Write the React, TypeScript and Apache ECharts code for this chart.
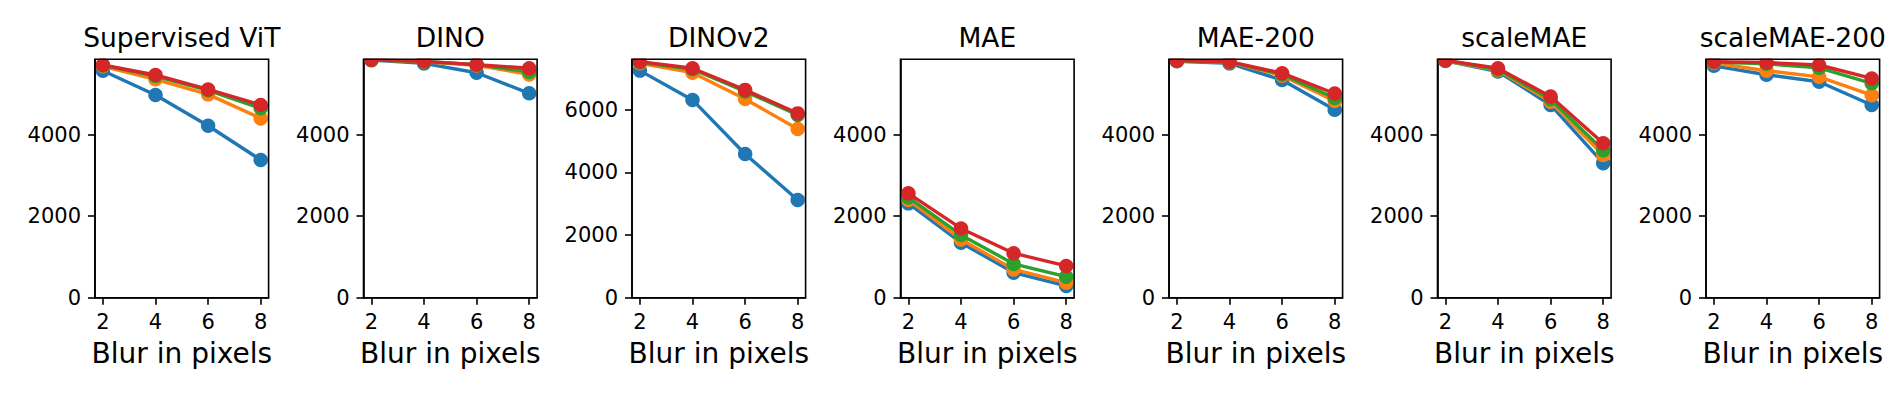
import React, { useEffect, useRef } from "react";
import * as echarts from "echarts";

const blurPixels = [2, 4, 6, 8];
const panelTitles = ["Supervised ViT", "DINO", "DINOv2", "MAE", "MAE-200", "scaleMAE", "scaleMAE-200"];
const seriesNames = ["series 1", "series 2", "series 3", "series 4"];
const seriesColors = ["#1f77b4", "#ff7f0e", "#2ca02c", "#d62728"];
const xTicks = [2, 4, 6, 8];
const yTicksShared = [0, 2000, 4000];
const yTicksDinov2 = [0, 2000, 4000, 6000];

const supervisedViT = [
  [5570, 4975, 4220, 3380],
  [5680, 5360, 4990, 4400],
  [5700, 5440, 5090, 4650],
  [5710, 5465, 5110, 4730],
];
const dino = [
  [5830, 5750, 5520, 5015],
  [5835, 5790, 5700, 5480],
  [5835, 5795, 5720, 5540],
  [5840, 5800, 5720, 5630],
];
const dinov2 = [
  [7245, 6310, 4585, 3120],
  [7480, 7180, 6340, 5385],
  [7510, 7290, 6580, 5830],
  [7530, 7320, 6630, 5880],
];
const mae = [
  [2315, 1350, 615, 290],
  [2400, 1430, 695, 370],
  [2460, 1540, 830, 515],
  [2560, 1700, 1090, 780],
];
const mae200 = [
  [5800, 5750, 5340, 4610],
  [5810, 5780, 5450, 4830],
  [5815, 5785, 5480, 4900],
  [5820, 5790, 5510, 5010],
];
const scaleMAE = [
  [5810, 5550, 4730, 3300],
  [5815, 5580, 4810, 3500],
  [5820, 5600, 4870, 3620],
  [5825, 5630, 4935, 3790],
];
const scaleMAE200 = [
  [5690, 5470, 5300, 4730],
  [5760, 5570, 5420, 4970],
  [5780, 5740, 5640, 5260],
  [5790, 5770, 5710, 5380],
];

const panelData = [supervisedViT, dino, dinov2, mae, mae200, scaleMAE, scaleMAE200];
const yMaxes = [5850, 5850, 7606, 5850, 5850, 5850, 5850];
const yTickSets = [yTicksShared, yTicksShared, yTicksDinov2, yTicksShared, yTicksShared, yTicksShared, yTicksShared];

const FONT = "DejaVu Sans";
const GRID_LEFT0 = 95;
const GRID_STEP = 268.5;
const GRID_W = 173.6;
const GRID_TOP = 59.3;
const GRID_H = 238.4;

export default function App() {
  const ref = useRef<HTMLDivElement>(null);
  useEffect(() => {
    if (!ref.current) return;
    const chart = echarts.init(ref.current, null, { renderer: "svg" });
    const grids: any[] = [];
    const xAxes: any[] = [];
    const yAxes: any[] = [];
    const series: any[] = [];
    const graphics: any[] = [];
    panelTitles.forEach((title, i) => {
      const left = GRID_LEFT0 + i * GRID_STEP;
      grids.push({ left, top: GRID_TOP, width: GRID_W, height: GRID_H, show: false, containLabel: false });
      xAxes.push({
        type: "value",
        gridIndex: i,
        min: 1.7,
        max: 8.3,
        name: "Blur in pixels",
        nameLocation: "middle",
        nameGap: 42,
        nameTextStyle: { fontFamily: FONT, fontSize: 28, color: "#000" },
        axisLine: { show: true, lineStyle: { color: "#000", width: 1.6 } },
        axisTick: { show: true, customValues: xTicks, length: 7, lineStyle: { color: "#000", width: 1.6 } },
        axisLabel: {
          customValues: xTicks,
          margin: 14,
          fontFamily: FONT,
          fontSize: 21,
          color: "#000",
          formatter: (v: number) => String(v),
        },
        splitLine: { show: false },
      });
      yAxes.push({
        type: "value",
        gridIndex: i,
        min: 0,
        max: yMaxes[i],
        axisLine: { show: true, lineStyle: { color: "#000", width: 1.6 } },
        axisTick: { show: true, customValues: yTickSets[i], length: 7, lineStyle: { color: "#000", width: 1.6 } },
        axisLabel: {
          customValues: yTickSets[i],
          margin: 14,
          fontFamily: FONT,
          fontSize: 21,
          color: "#000",
          formatter: (v: number) => String(v),
        },
        splitLine: { show: false },
      });
      panelData[i].forEach((vals, s) => {
        series.push({
          type: "line",
          name: seriesNames[s],
          xAxisIndex: i,
          yAxisIndex: i,
          data: blurPixels.map((x, k) => [x, vals[k]]),
          symbol: "circle",
          symbolSize: 14.5,
          showSymbol: true,
          clip: false,
          lineStyle: { color: seriesColors[s], width: 3.4 },
          itemStyle: { color: seriesColors[s] },
          emphasis: { disabled: true },
          z: 2 + s * 0.01,
        });
      });
      graphics.push({
        type: "rect",
        z: 50,
        silent: true,
        shape: { x: left - 2, y: 0, width: GRID_W + 4, height: GRID_TOP - 0.8 },
        style: { fill: "#fff" },
      });
      graphics.push({
        type: "rect",
        z: 60,
        silent: true,
        shape: { x: left, y: GRID_TOP, width: GRID_W, height: GRID_H },
        style: { fill: "none", stroke: "#000", lineWidth: 1.6 },
      });
      graphics.push({
        type: "text",
        z: 70,
        silent: true,
        x: left + GRID_W / 2,
        y: 37,
        style: {
          text: title,
          fontFamily: FONT,
          fontSize: 26.5,
          fill: "#000",
          align: "center",
          verticalAlign: "middle",
          textAlign: "center",
          textVerticalAlign: "middle",
        },
      });
    });
    chart.setOption({
      animation: false,
      backgroundColor: "#fff",
      grid: grids,
      xAxis: xAxes,
      yAxis: yAxes,
      series,
      graphic: { elements: graphics },
    });
    return () => chart.dispose();
  }, []);
  return <div ref={ref} style={{ position: "fixed", left: 0, top: 0, width: 1903, height: 397, background: "#fff" }} />;
}
